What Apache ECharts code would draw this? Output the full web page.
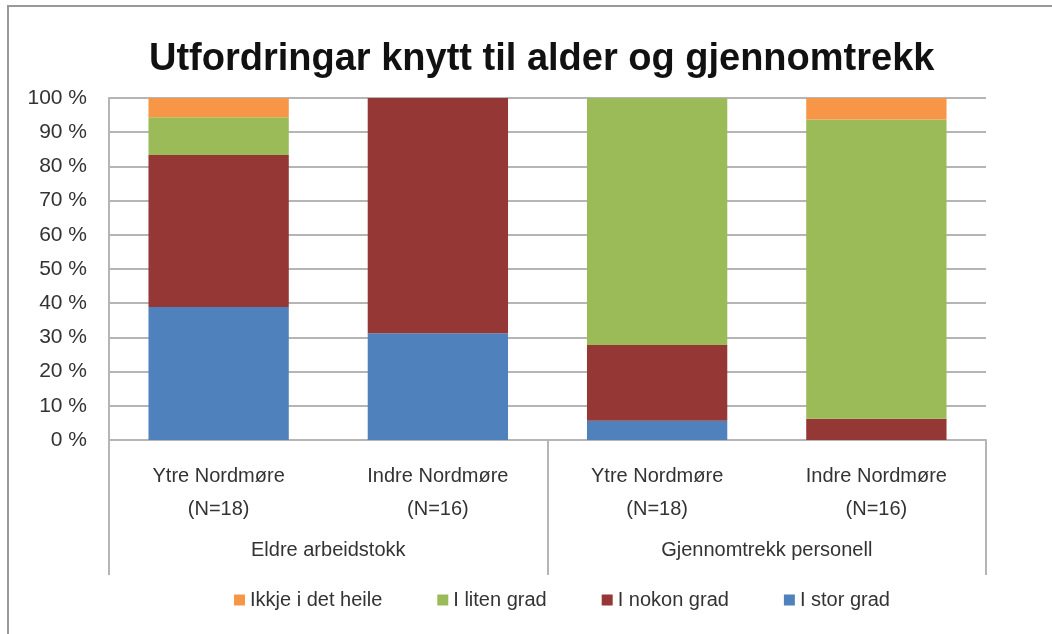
<!DOCTYPE html>
<html>
<head>
<meta charset="utf-8">
<script src="https://cdn.jsdelivr.net/npm/echarts@6/dist/echarts.min.js"></script>
<style>
  html, body { margin: 0; padding: 0; background: #fff; }
  #chart { width: 1052px; height: 634px; }
</style>
</head>
<body>
<div id="chart"></div>
<script>
const categories = ['Ytre Nordmøre\n(N=18)', 'Indre Nordmøre\n(N=16)', 'Ytre Nordmøre\n(N=18)', 'Indre Nordmøre\n(N=16)'];
const groups = ['Eldre arbeidstokk', 'Gjennomtrekk personell'];

// percent of respondents, bottom to top
const iStorGrad = [38.9, 31.25, 5.6, 0];
const iNokonGrad = [44.4, 68.75, 22.2, 6.25];
const iLitenGrad = [11.1, 0, 72.2, 87.5];
const ikkjeIDetHeile = [5.6, 0, 0, 6.25];

const yTicks = [0, 10, 20, 30, 40, 50, 60, 70, 80, 90, 100];

const font = '"Liberation Sans", sans-serif';
const textColor = '#333';
const lineColor = '#b5b5b5';

const chart = echarts.init(document.getElementById('chart'));

function bar(name, data, color) {
    return {
        name: name,
        type: 'bar',
        stack: 'total',
        data: data,
        barWidth: '64%',
        itemStyle: { color: color },
        emphasis: { disabled: true }
    };
}

const option = {
    backgroundColor: '#fff',
    animation: false,
    title: {
        text: 'Utfordringar knytt til alder og gjennomtrekk',
        left: 144,
        top: 36,
        textStyle: { fontFamily: font, fontSize: 38, fontWeight: 'bold', color: '#111' }
    },
    graphic: [{
        type: 'polyline',
        shape: { points: [[8, 640], [8, 6], [1060, 6]] },
        style: { stroke: '#999', lineWidth: 2, fill: null }
    }],
    legend: {
        data: ['Ikkje i det heile', 'I liten grad', 'I nokon grad', 'I stor grad'],
        bottom: 19,
        left: 229,
        itemWidth: 11,
        itemHeight: 11,
        itemGap: 55,
        icon: 'rect',
        textStyle: { fontFamily: font, fontSize: 20, color: textColor }
    },
    grid: { left: 109, right: 66, top: 98, bottom: 194 },
    xAxis: [{
        type: 'category',
        data: categories,
        axisLine: { lineStyle: { color: lineColor, width: 2 } },
        axisTick: { show: false },
        axisLabel: {
            fontFamily: font, fontSize: 20, color: textColor,
            margin: 20, lineHeight: 33, interval: 0
        }
    }, {
        type: 'category',
        data: groups,
        position: 'bottom',
        axisLine: { show: false },
        axisTick: { show: true, length: 135, lineStyle: { color: lineColor, width: 2 } },
        axisLabel: { fontFamily: font, fontSize: 20, color: textColor, margin: 100 }
    }],
    yAxis: {
        type: 'value',
        min: yTicks[0],
        max: yTicks[yTicks.length - 1],
        interval: 10,
        axisLine: { show: true, lineStyle: { color: lineColor, width: 2 } },
        axisTick: { show: false },
        splitLine: { lineStyle: { color: lineColor, width: 2 } },
        axisLabel: {
            fontFamily: font, fontSize: 21, color: textColor, margin: 22,
            formatter: v => v + ' %'
        }
    },
    series: [
        bar('I stor grad', iStorGrad, '#4f81bd'),
        bar('I nokon grad', iNokonGrad, '#953735'),
        bar('I liten grad', iLitenGrad, '#9bbb59'),
        bar('Ikkje i det heile', ikkjeIDetHeile, '#f79646')
    ]
};

chart.setOption(option);

window.addEventListener('resize', () => {
    chart.resize();
});
</script>
</body>
</html>
